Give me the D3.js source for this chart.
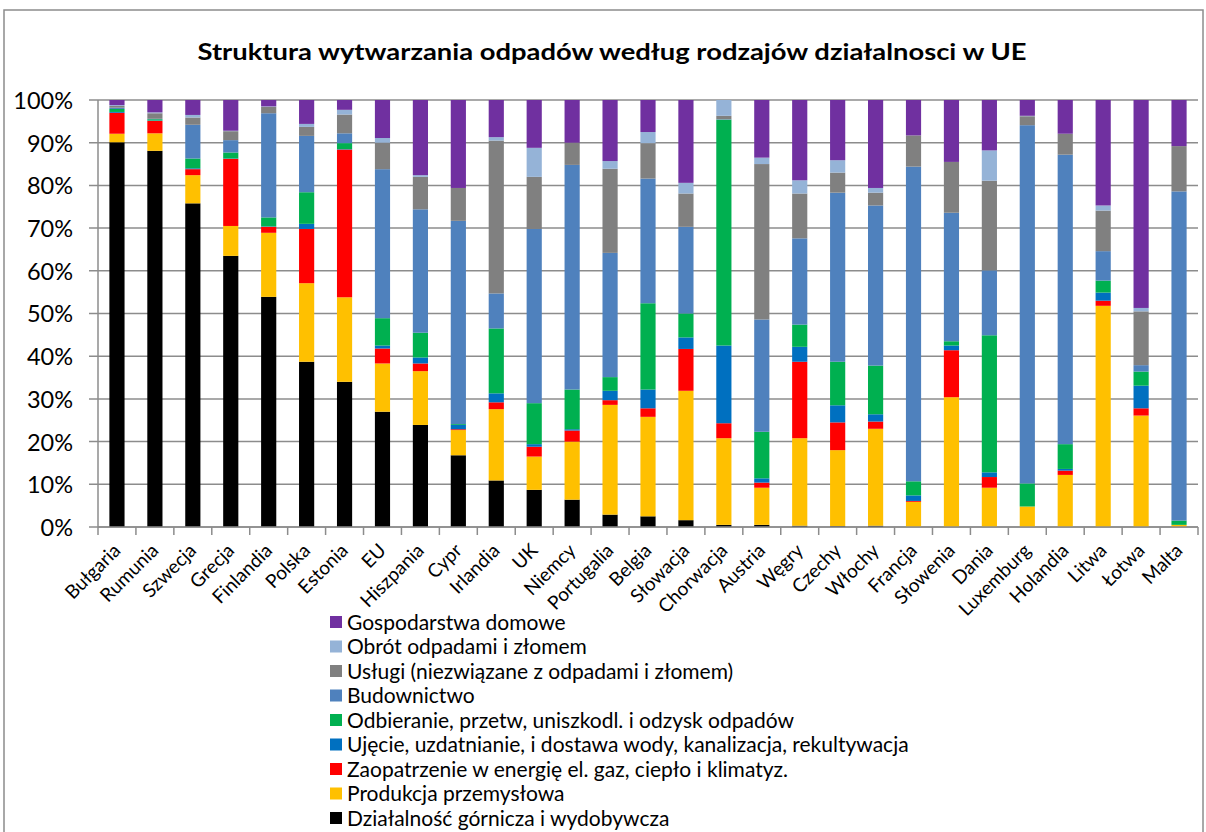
<!DOCTYPE html>
<html>
<head>
<meta charset="utf-8">
<script src="https://cdn.jsdelivr.net/npm/d3@7"></script>
<style>
  html, body { margin: 0; padding: 0; background: #fff; }
  svg { display: block; }
  text { font-family: Lato, "Liberation Sans", sans-serif; fill: #000; }
</style>
</head>
<body>
<svg id="chart" width="1206" height="832"></svg>
<script>
const title = "Struktura wytwarzania odpadów według rodzajów działalnosci w UE";

const categories = ["Bułgaria","Rumunia","Szwecja","Grecja","Finlandia","Polska","Estonia","EU","Hiszpania","Cypr","Irlandia","UK","Niemcy","Portugalia","Belgia","Słowacja","Chorwacja","Austria","Węgry","Czechy","Włochy","Francja","Słowenia","Dania","Luxemburg","Holandia","Litwa","Łotwa","Malta"];

const seriesNames = [
  "Działalność górnicza i wydobywcza",
  "Produkcja przemysłowa",
  "Zaopatrzenie w energię el. gaz, ciepło i klimatyz.",
  "Ujęcie, uzdatnianie, i dostawa wody, kanalizacja, rekultywacja",
  "Odbieranie, przetw, uniszkodl. i odzysk odpadów",
  "Budownictwo",
  "Usługi (niezwiązane z odpadami i złomem)",
  "Obrót odpadami i złomem",
  "Gospodarstwa domowe"
];

const seriesColors = ["#000000","#FFC000","#FF0000","#0070C0","#00B050","#4F81BD","#808080","#95B3D7","#7030A0"];

const mining       = [90.1, 88.1, 75.8, 63.5, 53.9, 38.7, 34.0, 27.0, 23.9, 16.8, 10.9, 8.7, 6.4, 2.9, 2.5, 1.6, 0.5, 0.5, 0.3, 0.2, 0.3, 0, 0, 0, 0, 0, 0, 0, 0];
const production   = [2.0, 4.1, 6.6, 7.0, 15.0, 18.4, 19.8, 11.3, 12.6, 5.9, 16.7, 7.8, 13.6, 25.7, 23.3, 30.3, 20.3, 8.7, 20.5, 17.8, 22.7, 5.9, 30.4, 9.2, 4.8, 12.2, 51.8, 26.1, 0.5];
const energy       = [4.9, 2.9, 1.4, 15.7, 1.4, 12.7, 34.6, 3.5, 1.8, 0.2, 1.6, 2.3, 2.6, 1.1, 2.0, 9.8, 3.5, 1.2, 17.9, 6.5, 1.7, 0.2, 11.0, 2.5, 0, 1.0, 1.2, 1.7, 0];
const water        = [0.2, 0.1, 0.2, 0.1, 0.1, 1.2, 0.1, 0.7, 1.4, 1.0, 2.1, 0.6, 0.3, 2.2, 4.4, 2.7, 18.2, 1.0, 3.5, 4.0, 1.7, 1.3, 1.1, 1.1, 0, 0.4, 1.9, 5.3, 0];
const collection   = [0.7, 0.3, 2.3, 1.4, 2.1, 7.4, 1.4, 6.4, 5.8, 0.2, 15.2, 9.6, 9.3, 3.2, 20.2, 5.6, 52.9, 10.9, 5.2, 10.2, 11.4, 3.3, 1.0, 32.1, 5.4, 5.8, 2.8, 3.3, 1.0];
const construction = [0.3, 0.1, 7.9, 2.9, 24.4, 13.2, 2.3, 34.9, 28.9, 47.6, 8.2, 40.8, 52.6, 29.1, 29.2, 20.3, 0.1, 26.3, 20.2, 39.6, 37.5, 73.7, 30.1, 15.2, 83.9, 67.8, 6.9, 1.5, 77.1];
const services     = [0.4, 1.3, 1.7, 2.1, 1.5, 2.1, 4.4, 6.2, 7.6, 7.7, 35.8, 12.2, 5.2, 19.7, 8.3, 7.8, 0.8, 36.4, 10.5, 4.7, 3.0, 7.3, 11.9, 21.0, 2.1, 4.9, 9.5, 12.6, 10.6];
const trade        = [0.2, 0.2, 0.6, 0.1, 0.1, 0.7, 1.1, 1.1, 0.4, 0, 0.8, 6.8, 0, 1.8, 2.6, 2.5, 3.7, 1.5, 3.1, 2.9, 1.1, 0, 0, 7.1, 0.1, 0, 1.2, 0.8, 0];
const households   = [1.2, 2.9, 3.5, 7.2, 1.5, 5.6, 2.3, 8.9, 17.6, 20.6, 8.7, 11.2, 10.0, 14.3, 7.5, 19.4, 0, 13.5, 18.8, 14.1, 20.6, 8.3, 14.5, 11.8, 3.7, 7.9, 24.7, 48.7, 10.8];

const yTicks = [0, 0.1, 0.2, 0.3, 0.4, 0.5, 0.6, 0.7, 0.8, 0.9, 1.0];

const seriesValues = [mining, production, energy, water, collection, construction, services, trade, households];
const keys = seriesNames;
const table = categories.map((c, i) => {
  const row = { category: c };
  keys.forEach((k, j) => { row[k] = seriesValues[j][i]; });
  return row;
});

const svg = d3.select("#chart");
const margin = { left: 98 };
const plotW = 1198 - margin.left;
const plotTop = 100, plotBottom = 527;

// outer border
svg.append("rect")
  .attr("x", 4).attr("y", 10)
  .attr("width", 1199).attr("height", 840)
  .attr("fill", "none").attr("stroke", "#8c8c8c").attr("stroke-width", 1.5);

// title
svg.append("text")
  .attr("x", 612).attr("y", 60)
  .attr("text-anchor", "middle")
  .attr("font-weight", "bold")
  .attr("font-size", 22)
  .attr("textLength", 829)
  .attr("lengthAdjust", "spacingAndGlyphs")
  .text(title);

const x = d3.scaleBand().domain(categories).range([margin.left, margin.left + plotW]).paddingInner(0.6).paddingOuter(0.3);
const xEdge = d3.scaleBand().domain(categories).range([margin.left, margin.left + plotW]).padding(0);
const y = d3.scaleLinear().domain([0, 1]).range([plotBottom, plotTop]);

// gridlines
svg.append("g").selectAll("line").data(yTicks).join("line")
  .attr("x1", margin.left - 9).attr("x2", margin.left + plotW)
  .attr("y1", d => y(d)).attr("y2", d => y(d))
  .attr("stroke", "#8c8c8c").attr("stroke-width", 1.5);

// y axis
const yAxis = d3.axisLeft(y).tickValues(yTicks).tickFormat(d3.format(".0%")).tickSize(0).tickPadding(25);
const gy = svg.append("g").attr("transform", `translate(${margin.left},0)`).call(yAxis);
gy.select(".domain").remove();
gy.selectAll("text").attr("font-size", 23.5).attr("font-family", "Lato, sans-serif").attr("fill", "#000").attr("dy", "0.36em");

svg.append("line")
  .attr("x1", margin.left).attr("x2", margin.left)
  .attr("y1", plotTop).attr("y2", plotBottom)
  .attr("stroke", "#8c8c8c").attr("stroke-width", 1.5);

// stacked bars
const stack = d3.stack().keys(keys).offset(d3.stackOffsetExpand);
const stacked = stack(table);

svg.append("g").selectAll("g").data(stacked).join("g")
  .attr("fill", (d, i) => seriesColors[i])
  .selectAll("rect").data(d => d).join("rect")
  .attr("x", d => x(d.data.category))
  .attr("width", x.bandwidth())
  .attr("y", d => y(d[1]))
  .attr("height", d => Math.max(0, y(d[0]) - y(d[1])));

// x axis
const gx = svg.append("g").attr("transform", `translate(0,${plotBottom})`);
gx.append("line")
  .attr("x1", margin.left).attr("x2", margin.left + plotW)
  .attr("y1", 0).attr("y2", 0)
  .attr("stroke", "#8c8c8c").attr("stroke-width", 1.5);
const edges = categories.map(c => xEdge(c)).concat([margin.left + plotW]);
gx.selectAll("line.tick").data(edges).join("line")
  .attr("class", "tick")
  .attr("x1", d => d).attr("x2", d => d)
  .attr("y1", 0).attr("y2", 8)
  .attr("stroke", "#8c8c8c").attr("stroke-width", 1.5);

svg.append("g").selectAll("text").data(categories).join("text")
  .attr("transform", d => `translate(${xEdge(d) + xEdge.bandwidth() / 2},${plotBottom + 20}) rotate(-45)`)
  .attr("text-anchor", "end")
  .attr("font-size", 19)
  .attr("dy", "0.35em")
  .text(d => d);

// legend (reverse order)
const legendItems = seriesNames.map((n, i) => ({ name: n, color: seriesColors[i] })).reverse();
const lg = svg.append("g").attr("transform", "translate(330,616)");
const row = lg.selectAll("g").data(legendItems).join("g")
  .attr("transform", (d, i) => `translate(0,${i * 24.5})`);
row.append("rect").attr("x", 0).attr("y", 0).attr("width", 12).attr("height", 12).attr("fill", d => d.color);
row.append("text").attr("x", 17).attr("y", 6).attr("dy", "0.36em").attr("font-size", 21).text(d => d.name);
</script>
</body>
</html>
